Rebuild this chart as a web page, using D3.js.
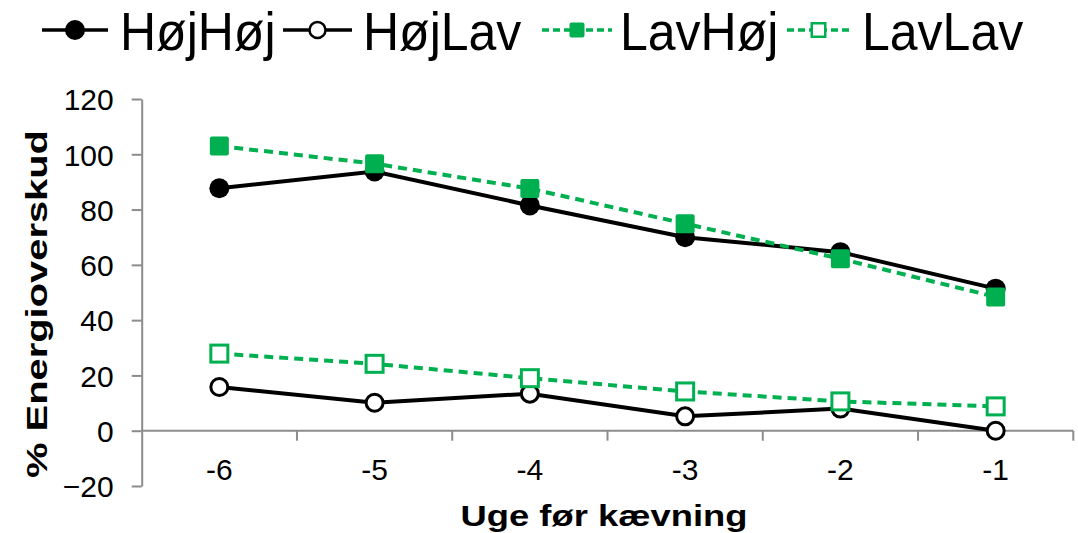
<!DOCTYPE html>
<html>
<head>
<meta charset="utf-8">
<script src="https://cdn.jsdelivr.net/npm/d3@7"></script>
<style>
  html, body { margin: 0; padding: 0; background: #fff; }
  svg { display: block; font-family: "Liberation Sans", Arial, sans-serif; }
</style>
</head>
<body>
<svg id="chart" width="1078" height="533"></svg>
<script>
// Weeks before calving
const categories = ["-6", "-5", "-4", "-3", "-2", "-1"];

// Energy surplus (%) per feeding group
const hojHoj = [87.7, 93.8, 81.5, 70.0, 64.6, 51.4];
const hojLav = [15.8, 10.1, 13.4, 5.2, 8.0, 0.0];
const lavHoj = [103.0, 96.6, 87.6, 74.9, 62.2, 48.4];
const lavLav = [27.9, 24.2, 19.0, 14.2, 10.6, 8.8];

const yTicks = [-20, 0, 20, 40, 60, 80, 100, 120];

const GREEN = "#00B050";
const AXIS = "#8c8c8c";

const series = [
  { name: "HøjHøj", values: hojHoj, color: "#000", dash: null, marker: "circle", filled: true },
  { name: "HøjLav", values: hojLav, color: "#000", dash: null, marker: "circle", filled: false },
  { name: "LavHøj", values: lavHoj, color: GREEN, dash: "9,6", marker: "square", filled: true },
  { name: "LavLav", values: lavLav, color: GREEN, dash: "9,6", marker: "square", filled: false }
];

const svg = d3.select("#chart");

const plot = { left: 141.7, right: 1073.3, top: 99, bottom: 486 };

const x = d3.scaleBand().domain(categories).range([plot.left, plot.right]);
const y = d3.scaleLinear().domain([-20, 120]).range([plot.bottom, plot.top]);
const cx = c => x(c) + x.bandwidth() / 2;

// Y axis
const yAxis = svg.append("g")
  .attr("transform", `translate(${plot.left},0)`)
  .call(d3.axisLeft(y).tickValues(yTicks).tickSize(10).tickSizeOuter(0).tickPadding(18).tickFormat(d3.format("d")));
yAxis.select(".domain").attr("stroke", AXIS).attr("stroke-width", 2);
yAxis.selectAll(".tick line").attr("stroke", AXIS).attr("stroke-width", 2);
yAxis.selectAll(".tick text")
  .attr("font-size", 30).attr("fill", "#000")
  .attr("font-family", "Liberation Sans, Arial, sans-serif")
  .attr("dy", "0.36em");

// X axis at zero, ticks between categories
const x0 = y(0);
const xg = svg.append("g");
xg.append("line")
  .attr("x1", plot.left).attr("x2", plot.right)
  .attr("y1", x0).attr("y2", x0)
  .attr("stroke", AXIS).attr("stroke-width", 2);
const edges = categories.slice(1).map(c => x(c)).concat([plot.right]);
xg.selectAll("line.tick").data(edges).join("line")
  .attr("class", "tick")
  .attr("x1", d => d).attr("x2", d => d)
  .attr("y1", x0).attr("y2", x0 + 10)
  .attr("stroke", AXIS).attr("stroke-width", 2);
xg.selectAll("text").data(categories).join("text")
  .attr("x", d => cx(d)).attr("y", 480)
  .attr("text-anchor", "middle")
  .attr("font-size", 30)
  .text(d => d);

// Axis titles
svg.append("text")
  .attr("x", 604).attr("y", 526)
  .attr("text-anchor", "middle")
  .attr("font-size", 29).attr("font-weight", "bold")
  .attr("textLength", 287).attr("lengthAdjust", "spacingAndGlyphs")
  .text("Uge før kævning");
svg.append("text")
  .attr("transform", "translate(47,304) rotate(-90)")
  .attr("text-anchor", "middle")
  .attr("font-size", 30).attr("font-weight", "bold")
  .attr("textLength", 348).attr("lengthAdjust", "spacingAndGlyphs")
  .text("% Energioverskud");

// Marker drawing
function drawMarker(g, s, px, py, size) {
  if (s.marker === "circle") {
    const r = s.filled ? size.circle : size.openCircle;
    g.append("circle")
      .attr("cx", px).attr("cy", py).attr("r", r)
      .attr("fill", s.filled ? s.color : "#fff")
      .attr("stroke", s.color).attr("stroke-width", s.filled ? 0 : size.sw);
  } else {
    const w = s.filled ? size.square : size.openSquare;
    g.append("rect")
      .attr("x", px - w / 2).attr("y", py - w / 2)
      .attr("width", w).attr("height", w)
      .attr("rx", s.filled ? 2 : 0)
      .attr("fill", s.filled ? s.color : "#fff")
      .attr("stroke", s.color).attr("stroke-width", s.filled ? 0 : size.sw);
  }
}

const line = d3.line().x((d, i) => cx(categories[i])).y(d => y(d));

series.forEach(s => {
  const g = svg.append("g");
  g.append("path")
    .datum(s.values)
    .attr("d", line)
    .attr("fill", "none")
    .attr("stroke", s.color)
    .attr("stroke-width", 4)
    .attr("stroke-dasharray", s.dash);
  s.values.forEach((v, i) => {
    drawMarker(g, s, cx(categories[i]), y(v), { circle: 10, openCircle: 8.5, square: 19, openSquare: 17, sw: 3 });
  });
});

// Legend
const legendItems = [
  { x1: 42, x2: 108, text: 120 },
  { x1: 283, x2: 352, text: 363 },
  { x1: 542, x2: 612, text: 620 },
  { x1: 787, x2: 850, text: 862 }
];
const ly = 30;
series.forEach((s, i) => {
  const it = legendItems[i];
  const g = svg.append("g");
  g.append("line")
    .attr("x1", it.x1).attr("x2", it.x2).attr("y1", ly).attr("y2", ly)
    .attr("stroke", s.color).attr("stroke-width", 3.5)
    .attr("stroke-dasharray", s.dash ? "7,4" : null);
  drawMarker(g, s, (it.x1 + it.x2) / 2, ly, { circle: 10, openCircle: 8, square: 15, openSquare: 13.5, sw: 2.5 });
  g.append("text")
    .attr("transform", `translate(${it.text},50) scale(1,1.06)`)
    .attr("font-size", 50)
    .text(s.name);
});
</script>
</body>
</html>
